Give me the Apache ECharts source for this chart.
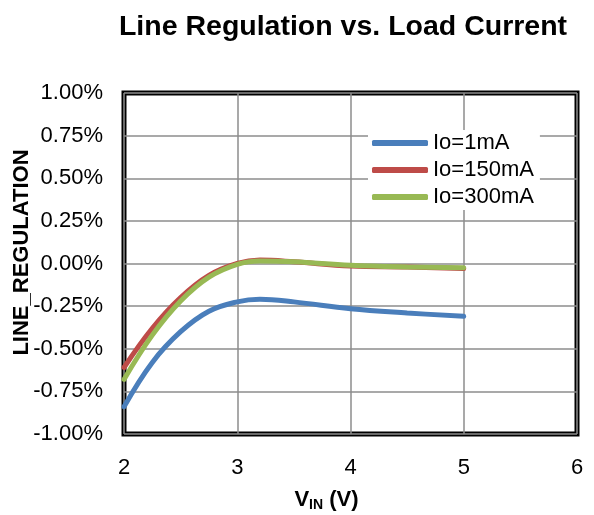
<!DOCTYPE html>
<html><head><meta charset="utf-8">
<script src="https://cdn.jsdelivr.net/npm/echarts@6/dist/echarts.min.js"></script>
<style>html,body{margin:0;padding:0;background:#fff}#c{width:594px;height:515px}</style>
</head><body><div id="c"></div>
<script>
const vin = [2, 2.25, 2.5, 2.75, 3, 3.2, 3.5, 4, 4.5, 5];
const io1 = [-0.84, -0.58, -0.40, -0.28, -0.225, -0.21, -0.225, -0.265, -0.29, -0.31];
const io150 = [-0.61, -0.38, -0.20, -0.07, 0.00, 0.02, 0.01, -0.015, -0.02, -0.03];
const io300 = [-0.68, -0.42, -0.22, -0.08, -0.005, 0.015, 0.01, -0.01, -0.02, -0.025];
const seriesNames = ['Io=1mA', 'Io=150mA', 'Io=300mA'];
const colors = ['#4A7EBB', '#BE4B48', '#98B954'];
const titleText = 'Line Regulation vs. Load Current';
const yName = 'LINE_REGULATION';

const font = 'Liberation Sans, Arial, sans-serif';
const chart = echarts.init(document.getElementById('c'));
const mk = (arr) => vin.map((x, i) => [x, arr[i]]);
const datas = [io1, io150, io300];
chart.setOption({
  animation: false,
  textStyle: { fontFamily: font },
  title: { text: titleText, left: 338, top: 8, textAlign: 'center',
    textStyle: { fontSize: 28.5, fontWeight: 'bold', color: '#000', fontFamily: font } },
  grid: { left: 124, right: 17, top: 93, bottom: 81, containLabel: false, outerBoundsMode: 'none',
    show: true, borderColor: '#000', borderWidth: 5, backgroundColor: 'transparent' },
  legend: {
    orient: 'vertical', left: 368, top: 130, itemWidth: 56, itemHeight: 6, itemGap: 5,
    backgroundColor: '#fff', padding: [2, 6, 2, 4],
    textStyle: { fontSize: 22, color: '#000', fontFamily: font, padding: [0, 0, 0, 0] },
    icon: 'roundRect',
    data: seriesNames
  },
  xAxis: {
    type: 'value', min: 2, max: 6, interval: 1,
    name: '{v|V}{s|IN}{v| (V)}', nameLocation: 'middle', nameGap: 54, nameMoveOverlap: false,
    nameTextStyle: { padding: [0, 48, 0, 0], rich: {
      v: { fontSize: 22, fontWeight: 'bold', color: '#000', fontFamily: font },
      s: { fontSize: 14, fontWeight: 'bold', color: '#000', fontFamily: font, verticalAlign: 'bottom', padding: [10, 0, 0, 0] }
    } },
    axisLine: { show: false }, axisTick: { show: false },
    axisLabel: { fontSize: 22, color: '#000', margin: 23, fontFamily: font },
    splitLine: { show: true, lineStyle: { color: '#8c8c8c', width: 1.5 } }
  },
  yAxis: {
    type: 'value', min: -1, max: 1, interval: 0.25,
    name: yName, nameLocation: 'middle', nameGap: 91, nameRotate: 90, nameMoveOverlap: false,
    nameTextStyle: { fontSize: 22, fontWeight: 'bold', color: '#000', fontFamily: font, padding: [0, 0, 0, 22] },
    axisLine: { show: false }, axisTick: { show: false },
    axisLabel: { fontSize: 22, color: '#000', margin: 21, fontFamily: font,
      formatter: (v) => v.toFixed(2) + '%' },
    splitLine: { show: true, lineStyle: { color: '#8c8c8c', width: 1.5 } }
  },
  series: seriesNames.map((n, i) => ({
    name: n, type: 'line', smooth: 0.4, showSymbol: false, symbol: 'none',
    data: mk(datas[i]),
    lineStyle: { width: 5, color: colors[i], cap: 'round' },
    itemStyle: { color: colors[i] }
  }))
});
</script></body></html>
